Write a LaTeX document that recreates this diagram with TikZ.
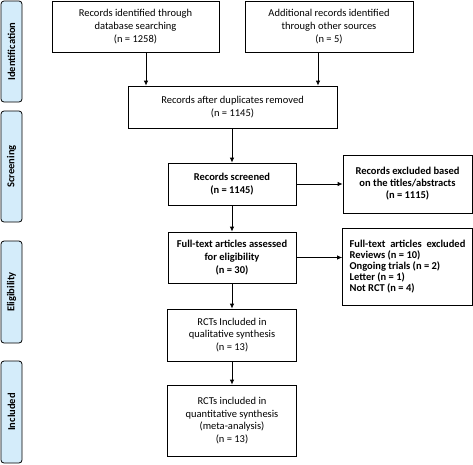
\documentclass[tikz,border=0pt]{standalone}
\usepackage{fontspec}
\setmainfont{Carlito}
\usetikzlibrary{arrows.meta,shadows}
\definecolor{sidebl}{HTML}{D4ECFA}
\tikzset{
  box/.style={draw, fill=white, line width=0.8pt, align=center, inner sep=2pt,
    font=\fontsize{10.5}{12.6}\selectfont,
    drop shadow={shadow xshift=0.9pt, shadow yshift=-0.9pt, fill=black!45, opacity=1}},
  bbox/.style={box, font=\fontsize{10.5}{12.6}\selectfont\bfseries},
  side/.style={draw, line width=0.8pt, rounded corners=3pt, fill=sidebl, rotate=90,
    minimum height=21pt, inner sep=0pt, font=\fontsize{10.5}{12}\selectfont},
  arr/.style={line width=0.8pt, -{Latex[length=5pt,width=4.5pt]}}
}
\begin{document}
\begin{tikzpicture}[x=1pt,y=1pt]
\useasboundingbox (0,0) rectangle (473,-464);
% side labels
\node[side, minimum width=101pt] (s1) at (11.5,-51.5) {\textbf{Identification}};
\node[side, minimum width=111pt] (s2) at (11.5,-166.5) {\textbf{Screening}};
\node[side, minimum width=102pt] (s3) at (11.5,-292) {\textbf{Eligibility}};
\node[side, minimum width=102pt] (s4) at (11.5,-412) {\textbf{Included}};
% boxes
\node[box, minimum width=167pt, minimum height=51pt] (b1) at (135.5,-26.5)
  {Records identified through\\database searching\\(n = 1258)};
\node[box, minimum width=168pt, minimum height=51pt] (b2) at (329,-26.5)
  {Additional records identified\\through other sources\\(n = 5)};
\node[box, minimum width=209pt, minimum height=42pt] (b3) at (232.5,-107)
  {Records after duplicates removed\\(n = 1145)};
\node[bbox, minimum width=128pt, minimum height=42pt] (b4) at (232,-184)
  {Records screened\\(n = 1145)};
\node[bbox, minimum width=129pt, minimum height=58pt, font=\fontsize{10.5}{12}\selectfont\bfseries] (b5) at (407.5,-184)
  {Records excluded based\\on the titles/abstracts\\(n = 1115)};
\node[bbox, minimum width=128pt, minimum height=51pt] (b6) at (232,-257.5)
  {Full-text articles assessed\\for eligibility\\(n = 30)};
\node[bbox, minimum width=129pt, minimum height=77pt, align=left, inner sep=7pt, font=\fontsize{10.5}{10.8}\selectfont\bfseries] (b7) at (407.5,-266.5)
  {Full-text\ \ articles\ \ excluded\\Reviews (n = 10)\\Ongoing trials (n = 2)\\Letter (n = 1)\\Not RCT (n = 4)};
\node[box, minimum width=129pt, minimum height=52pt] (b8) at (232,-335)
  {RCTs Included in\\qualitative synthesis\\(n = 13)};
\node[box, minimum width=129pt, minimum height=71pt] (b9) at (232,-420.5)
  {RCTs included in\\quantitative synthesis\\(meta-analysis)\\(n = 13)};
% connectors
\draw[arr] (b1.south -| 146,0) -- (b3.north -| 146,0);
\draw[arr] (b2.south -| 318,0) -- (b3.north -| 318,0);
\draw[arr] (b3.south -| b4.north) -- (b4.north);
\draw[arr] (b4) -- (b6);
\draw[arr] (b6) -- (b8);
\draw[arr] (b8) -- (b9);
\draw[arr] (b4.east) -- (b4.east -| b5.west);
\draw[arr] (b6.east) -- (b6.east -| b7.west);
\end{tikzpicture}
\end{document}
